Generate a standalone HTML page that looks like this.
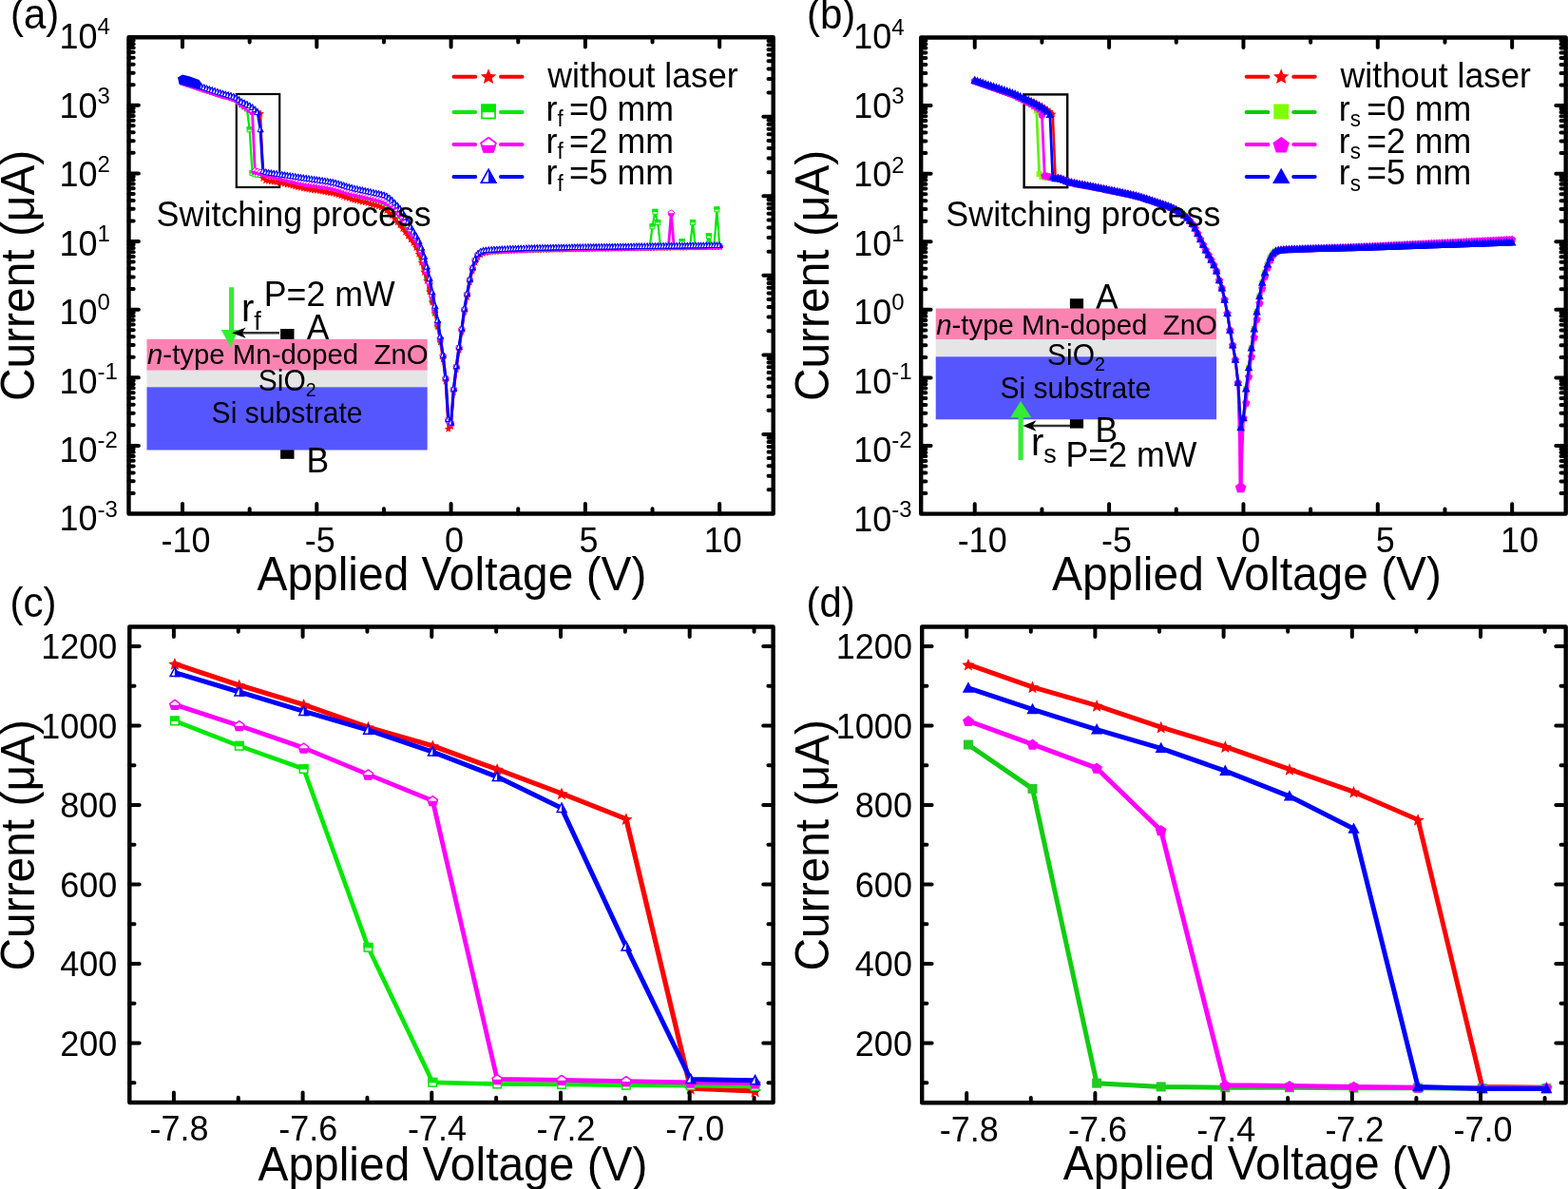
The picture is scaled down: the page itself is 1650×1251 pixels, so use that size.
<!DOCTYPE html>
<html><head><meta charset="utf-8"><title>I-V curves</title>
<style>html,body{margin:0;padding:0;background:#fff;overflow:hidden}svg{display:block}</style>
</head><body>
<svg width="1650" height="1251" viewBox="0 0 1650 1251" font-family="'Liberation Sans', Arial, Helvetica, sans-serif">
<defs><marker id="ast" markerUnits="userSpaceOnUse" markerWidth="20.8" markerHeight="20.8" refX="10.4" refY="10.4" overflow="visible"><polygon points="10.4,6.62 11.51,9.29 14.39,9.52 12.2,11.4 12.87,14.22 10.4,12.71 7.93,14.22 8.6,11.4 6.41,9.52 9.29,9.29" fill="#ff0000"/></marker><marker id="asq" markerUnits="userSpaceOnUse" markerWidth="20.8" markerHeight="20.8" refX="10.4" refY="10.4" overflow="visible"><rect x="7.9" y="7.9" width="5" height="5" fill="#fff" stroke="#00e800" stroke-width="1"/><rect x="7.4" y="7.4" width="6" height="3.3" fill="#00e800"/></marker><marker id="ape" markerUnits="userSpaceOnUse" markerWidth="20.8" markerHeight="20.8" refX="10.4" refY="10.4" overflow="visible"><polygon points="10.4,7.26 13.73,9.68 12.46,13.59 8.34,13.59 7.07,9.68" fill="#fff" stroke="#ff00ff" stroke-width="1" stroke-linejoin="round"/><polygon points="13.85,10.6 12.75,14 8.05,14 6.95,10.6" fill="#ff00ff"/></marker><marker id="atr" markerUnits="userSpaceOnUse" markerWidth="20.8" markerHeight="20.8" refX="10.4" refY="10.4" overflow="visible"><polygon points="10.4,7.22 13.35,12.92 7.45,12.92" fill="#fff" stroke="#0000ff" stroke-width="1" stroke-linejoin="miter"/><polygon points="10.4,6.22 14.2,13.42 10.4,13.42" fill="#0000ff"/></marker><marker id="bst" markerUnits="userSpaceOnUse" markerWidth="21.2" markerHeight="21.2" refX="10.6" refY="10.6" overflow="visible"><polygon points="10.6,7 11.66,9.54 14.4,9.76 12.31,11.56 12.95,14.24 10.6,12.8 8.25,14.24 8.89,11.56 6.8,9.76 9.54,9.54" fill="#ff0000"/></marker><marker id="bsq" markerUnits="userSpaceOnUse" markerWidth="21.2" markerHeight="21.2" refX="10.6" refY="10.6" overflow="visible"><rect x="7.6" y="7.6" width="6" height="6" fill="#80ff00"/></marker><marker id="bpe" markerUnits="userSpaceOnUse" markerWidth="21.2" markerHeight="21.2" refX="10.6" refY="10.6" overflow="visible"><polygon points="10.6,6.6 14.78,9.64 13.19,14.56 8.01,14.56 6.42,9.64" fill="#ff00ff"/></marker><marker id="btr" markerUnits="userSpaceOnUse" markerWidth="21.2" markerHeight="21.2" refX="10.6" refY="10.6" overflow="visible"><polygon points="10.6,5.73 14.9,14.13 6.3,14.13" fill="#0000ff"/></marker><marker id="cst" markerUnits="userSpaceOnUse" markerWidth="32" markerHeight="32" refX="16" refY="16" overflow="visible"><polygon points="16,9.7 17.85,14.15 22.66,14.54 19,17.67 20.11,22.36 16,19.85 11.89,22.36 13,17.67 9.34,14.54 14.15,14.15" fill="#ff0000"/></marker><marker id="csq" markerUnits="userSpaceOnUse" markerWidth="32" markerHeight="32" refX="16" refY="16" overflow="visible"><rect x="11.75" y="11.75" width="8.5" height="8.5" fill="#fff" stroke="#00e800" stroke-width="1.5"/><rect x="11" y="11" width="10" height="5.5" fill="#00e800"/></marker><marker id="cpe" markerUnits="userSpaceOnUse" markerWidth="32" markerHeight="32" refX="16" refY="16" overflow="visible"><polygon points="16,11.11 21.18,14.87 19.2,20.97 12.8,20.97 10.82,14.87" fill="#fff" stroke="#ff00ff" stroke-width="1.5" stroke-linejoin="round"/><polygon points="21.35,16.31 19.64,21.57 12.36,21.57 10.65,16.31" fill="#ff00ff"/></marker><marker id="ctr" markerUnits="userSpaceOnUse" markerWidth="32" markerHeight="32" refX="16" refY="16" overflow="visible"><polygon points="16,10.89 20.83,20.04 11.18,20.04" fill="#fff" stroke="#0000ff" stroke-width="1.5" stroke-linejoin="miter"/><polygon points="16,9.39 22.1,20.79 16,20.79" fill="#0000ff"/></marker><marker id="dst" markerUnits="userSpaceOnUse" markerWidth="32" markerHeight="32" refX="16" refY="16" overflow="visible"><polygon points="16,9.7 17.85,14.15 22.66,14.54 19,17.67 20.11,22.36 16,19.85 11.89,22.36 13,17.67 9.34,14.54 14.15,14.15" fill="#ff0000"/></marker><marker id="dsq" markerUnits="userSpaceOnUse" markerWidth="32" markerHeight="32" refX="16" refY="16" overflow="visible"><rect x="11" y="11" width="10" height="10" fill="#22cc22"/></marker><marker id="dpe" markerUnits="userSpaceOnUse" markerWidth="32" markerHeight="32" refX="16" refY="16" overflow="visible"><polygon points="16,10.36 21.9,14.64 19.64,21.57 12.36,21.57 10.1,14.64" fill="#ff00ff"/></marker><marker id="dtr" markerUnits="userSpaceOnUse" markerWidth="32" markerHeight="32" refX="16" refY="16" overflow="visible"><polygon points="16,9.39 22.1,20.79 9.9,20.79" fill="#0000ff"/></marker></defs>
<rect width="1650" height="1251" fill="#fff"/>
<clipPath id="clipa"><rect x="135.5" y="39.2" width="678.2" height="501.3"/></clipPath>
<clipPath id="clipb"><rect x="969.2" y="39.5" width="678.5" height="501.1"/></clipPath>
<g clip-path="url(#clipa)">
<text transform="translate(322.8 356.6) scale(1 1.035)" font-size="35.5" text-anchor="start">A</text>
<rect x="295.1" y="346" width="14.4" height="14" fill="#000"/>
<rect x="295.1" y="469.5" width="14.4" height="13.3" fill="#000"/>
<rect x="154.5" y="356.8" width="295.2" height="33" fill="#fb83b2"/>
<rect x="154.5" y="389.8" width="295.2" height="17.5" fill="#e5e5e5"/>
<rect x="154.5" y="407.3" width="295.2" height="66.2" fill="#5656ff"/>
<text transform="translate(155.0 382.9) scale(1 1.035)" font-size="29.4"><tspan font-style="italic">n</tspan>-type Mn-doped&#160; ZnO</text>
<text transform="translate(271.8 411.3) scale(1 1.035)" font-size="30">SiO<tspan font-size="19.6" dy="5.6">2</tspan></text>
<text transform="translate(222.6 445.3) scale(1 1.035)" font-size="30.1" text-anchor="start">Si substrate</text>
<text transform="translate(322.4 497) scale(1 1.035)" font-size="35.5" text-anchor="start">B</text>
<line x1="243.6" y1="302.3" x2="243.6" y2="350" stroke="#33ee33" stroke-width="5.2"/>
<polygon points="232.7,346.9 250.5,346.9 242.8,365.5" fill="#33ee33"/>
<line x1="294" y1="350.2" x2="252" y2="350.2" stroke="#333" stroke-width="2.4"/>
<polygon points="244.2,350.2 258.6,344.6 254.8,350.2 258.6,355.8" fill="#000"/>
<text transform="translate(254 338.4) scale(1 1.035)" font-size="40">r<tspan font-size="27" dy="8.5">f</tspan></text>
<text transform="translate(277.8 321.7) scale(1 1.035)" font-size="35.7" text-anchor="start">P=2 mW</text>
<rect x="248.8" y="99" width="45.4" height="98" fill="none" stroke="#000" stroke-width="2.2"/>
<polyline points="192.02,86.47 194.84,87.42 197.67,88.38 200.49,89.34 203.32,90.29 206.15,91.24 208.97,92.19 211.8,93.15 214.62,94.11 217.45,95.06 220.28,95.99 223.1,96.9 225.93,97.79 228.75,98.67 231.58,99.55 234.4,100.43 237.23,101.23 240.06,101.93 242.88,102.69 245.71,103.62 248.53,104.87 251.36,107.45 254.19,110.44 257.01,112.44 259.84,114.4 262.66,136.28 265.49,182.12 268.31,183.38 271.14,183.7 273.97,184.02 276.79,184.69 279.62,185.36 282.44,186.23 285.27,186.94 288.1,187.58 290.92,188.25 293.75,188.97 296.57,189.68 299.4,190.29 302.22,190.9 305.05,191.51 307.88,192.11 310.7,192.72 313.53,193.32 316.35,193.93 319.18,194.53 322,195.06 324.83,195.57 327.66,196.06 330.48,196.54 333.31,197.02 336.13,197.5 338.96,198 341.79,198.52 344.61,199.07 347.44,199.67 350.26,200.31 353.09,201.06 355.92,201.93 358.74,202.89 361.57,203.89 364.39,204.82 367.22,205.7 370.04,206.5 372.87,207.21 375.7,207.88 378.52,208.53 381.35,209.15 384.17,209.77 387,210.4 389.83,211.04 392.65,211.84 395.48,212.59 398.3,213.33 401.13,214.26 403.95,215.22 406.78,216.71 409.61,218.62 412.43,220.92 415.26,223.51 418.08,226.56 420.91,230.27 423.74,234.55 426.56,238.8 429.39,243.15 432.21,247.35 435.04,251.33 437.86,255.92 440.69,262.07 443.52,271.17 446.34,281.91 449.17,292.13 451.99,304.39 454.82,316.59 457.65,329.03 460.47,342.62 463.3,357.94 466.12,374.9 468.95,398.67 471.77,442.42 474.6,445.93 477.43,410.05 480.25,386.34 483.08,366.14 485.9,346.8 488.73,325.96 491.56,310.06 494.38,294.8 497.21,282.62 500.03,274.03 502.86,268.3 505.68,265.99 508.51,264.85 511.34,264.46 514.16,264.19 516.99,264 519.81,263.84 522.64,263.67 525.47,263.5 528.29,263.35 531.12,263.2 533.94,263.07 536.77,262.94 539.59,262.82 542.42,262.7 545.25,262.59 548.07,262.49 550.9,262.39 553.72,262.31 556.55,262.22 559.38,262.14 562.2,262.07 565.03,262 567.85,261.93 570.68,261.87 573.5,261.8 576.33,261.74 579.16,261.68 581.98,261.63 584.81,261.57 587.63,261.52 590.46,261.46 593.29,261.41 596.11,261.37 598.94,261.32 601.76,261.27 604.59,261.22 607.41,261.18 610.24,261.14 613.07,261.09 615.89,261.05 618.72,261.01 621.54,260.96 624.37,260.92 627.2,260.88 630.02,260.84 632.85,260.79 635.67,260.75 638.5,260.71 641.32,260.66 644.15,260.62 646.98,260.57 649.8,260.53 652.63,260.48 655.45,260.44 658.28,260.39 661.11,260.35 663.93,260.3 666.76,260.26 669.58,260.21 672.41,260.17 675.23,260.13 678.06,260.08 680.89,260.04 683.71,260 686.54,238.29 689.36,222.82 692.19,233.99 695.02,259.83 697.84,259.79 700.67,259.75 703.49,259.71 706.32,259.67 709.14,259.63 711.97,259.59 714.8,259.55 717.62,254.04 720.45,259.47 723.27,259.43 726.1,259.39 728.93,233.99 731.75,259.31 734.58,259.27 737.4,259.24 740.23,259.2 743.05,259.16 745.88,248.31 748.71,259.09 751.53,259.05 754.36,220.38 757.18,258.98" fill="none" stroke="#00e800" stroke-width="2.2" stroke-linejoin="round" stroke-linecap="round" marker-start="url(#asq)" marker-mid="url(#asq)" marker-end="url(#asq)"/>
<polyline points="192.02,84.75 194.84,85.7 197.67,86.66 200.49,87.62 203.32,88.57 206.15,89.52 208.97,90.48 211.8,91.43 214.62,92.39 217.45,93.34 220.28,94.27 223.1,95.18 225.93,96.07 228.75,96.95 231.58,97.83 234.4,98.71 237.23,99.53 240.06,100.29 242.88,101.07 245.71,102 248.53,103.15 251.36,105.1 254.19,107.19 257.01,108.56 259.84,110 262.66,111.44 265.49,113.22 268.31,115.4 271.14,117.75 273.97,119.15 276.79,187.12 279.62,189.37 282.44,189.99 285.27,190.45 288.1,190.84 290.92,191.26 293.75,191.72 296.57,192.18 299.4,192.89 302.22,193.58 305.05,194.28 307.88,194.98 310.7,195.67 313.53,196.36 316.35,197.06 319.18,197.76 322,198.23 324.83,198.7 327.66,199.15 330.48,199.58 333.31,200.01 336.13,200.45 338.96,200.9 341.79,201.37 344.61,201.88 347.44,202.43 350.26,203.02 353.09,203.73 355.92,204.55 358.74,205.47 361.57,206.42 364.39,207.37 367.22,208.28 370.04,209.1 372.87,209.84 375.7,210.53 378.52,211.2 381.35,211.85 384.17,212.49 387,213.29 389.83,214.11 392.65,214.95 395.48,215.71 398.3,216.57 401.13,217.7 403.95,219.19 406.78,221.24 409.61,223.74 412.43,226.55 415.26,229.7 418.08,233.41 420.91,236.54 423.74,240.14 426.56,243.99 429.39,247.86 432.21,251.45 435.04,255.21 437.86,260.11 440.69,266.94 443.52,275.81 446.34,286.06 449.17,295.25 451.99,306.61 454.82,317.7 457.65,329.1 460.47,343.47 463.3,359.62 466.12,377.72 468.95,400.93 471.77,451.05 474.6,448.12 477.43,412.24 480.25,388.51 483.08,368.28 485.9,348.9 488.73,328.02 491.56,312.08 494.38,296.78 497.21,284.56 500.03,275.93 502.86,270.16 505.68,267.57 508.51,266.15 511.34,265.47 514.16,264.92 516.99,264.45 519.81,264.28 522.64,264.11 525.47,263.95 528.29,263.79 531.12,263.64 533.94,263.51 536.77,263.37 539.59,263.25 542.42,263.14 545.25,263.03 548.07,262.92 550.9,262.83 553.72,262.74 556.55,262.65 559.38,262.57 562.2,262.5 565.03,262.43 567.85,262.36 570.68,262.29 573.5,262.23 576.33,262.16 579.16,262.1 581.98,262.05 584.81,261.99 587.63,261.94 590.46,261.88 593.29,261.83 596.11,261.78 598.94,261.73 601.76,261.68 604.59,261.64 607.41,261.59 610.24,261.55 613.07,261.5 615.89,261.46 618.72,261.41 621.54,261.37 624.37,261.33 627.2,261.28 630.02,261.24 632.85,261.2 635.67,261.15 638.5,261.11 641.32,261.06 644.15,261.01 646.98,260.97 649.8,260.92 652.63,260.88 655.45,260.83 658.28,260.78 661.11,260.74 663.93,260.69 666.76,260.65 669.58,260.6 672.41,260.56 675.23,260.51 678.06,260.47 680.89,260.43 683.71,260.38 686.54,260.34 689.36,260.3 692.19,260.25 695.02,260.21 697.84,260.17 700.67,260.13 703.49,260.08 706.32,260.04 709.14,260 711.97,259.96 714.8,259.92 717.62,259.88 720.45,259.84 723.27,259.8 726.1,259.76 728.93,259.72 731.75,259.68 734.58,259.64 737.4,259.6 740.23,259.56 743.05,259.53 745.88,259.49 748.71,259.45 751.53,259.42 754.36,259.38 757.18,259.34" fill="none" stroke="#ff0000" stroke-width="2.6" stroke-linejoin="round" stroke-linecap="round" marker-start="url(#ast)" marker-mid="url(#ast)" marker-end="url(#ast)"/>
<polyline points="192.02,85.89 194.84,86.85 197.67,87.81 200.49,88.76 203.32,89.72 206.15,90.67 208.97,91.62 211.8,92.58 214.62,93.54 217.45,94.49 220.28,95.42 223.1,96.32 225.93,97.22 228.75,98.1 231.58,98.97 234.4,99.86 237.23,100.66 240.06,101.39 242.88,102.15 245.71,103.08 248.53,104.3 251.36,106.63 254.19,109.21 257.01,110.81 259.84,112.61 262.66,114.9 265.49,117.33 268.31,179.75 271.14,180.32 273.97,181.21 276.79,182.12 279.62,182.74 282.44,183.55 285.27,184.24 288.1,184.86 290.92,185.51 293.75,186.2 296.57,186.88 299.4,187.58 302.22,188.27 305.05,188.95 307.88,189.64 310.7,190.33 313.53,191.01 316.35,191.7 319.18,192.38 322,192.81 324.83,193.23 327.66,193.63 330.48,194.01 333.31,194.39 336.13,194.78 338.96,195.18 341.79,195.61 344.61,196.07 347.44,196.56 350.26,197.11 353.09,197.76 355.92,198.54 358.74,199.4 361.57,200.31 364.39,201.21 367.22,202.07 370.04,202.84 372.87,203.53 375.7,204.17 378.52,204.79 381.35,205.39 384.17,205.99 387,206.59 389.83,207.21 392.65,207.92 395.48,208.58 398.3,209.23 401.13,209.99 403.95,210.78 406.78,212.13 409.61,214 412.43,216.31 415.26,218.92 418.08,221.9 420.91,225.44 423.74,229.65 426.56,233.93 429.39,238.44 432.21,242.94 435.04,247.14 437.86,251.5 440.69,256.91 443.52,264.99 446.34,275.05 449.17,285.54 451.99,298 454.82,311.49 457.65,324.97 460.47,339.36 463.3,355.72 466.12,373.96 468.95,397.78 471.77,441.59 474.6,445.15 477.43,409.32 480.25,385.67 483.08,365.47 485.9,346.14 488.73,325.3 491.56,309.4 494.38,294.15 497.21,281.97 500.03,273.38 502.86,267.65 505.68,265.35 508.51,264.21 511.34,263.82 514.16,263.56 516.99,263.37 519.81,263.21 522.64,263.04 525.47,262.88 528.29,262.73 531.12,262.59 533.94,262.46 536.77,262.33 539.59,262.21 542.42,262.1 545.25,261.99 548.07,261.89 550.9,261.8 553.72,261.72 556.55,261.64 559.38,261.56 562.2,261.49 565.03,261.42 567.85,261.36 570.68,261.3 573.5,261.24 576.33,261.18 579.16,261.12 581.98,261.07 584.81,261.02 587.63,260.97 590.46,260.92 593.29,260.87 596.11,260.82 598.94,260.78 601.76,260.74 604.59,260.69 607.41,260.65 610.24,260.61 613.07,260.57 615.89,260.53 618.72,260.49 621.54,260.45 624.37,260.41 627.2,260.37 630.02,260.33 632.85,260.29 635.67,260.25 638.5,260.21 641.32,260.17 644.15,260.13 646.98,260.09 649.8,260.05 652.63,260 655.45,259.96 658.28,259.92 661.11,259.88 663.93,259.84 666.76,259.8 669.58,259.76 672.41,259.72 675.23,259.68 678.06,259.64 680.89,259.6 683.71,259.56 686.54,259.52 689.36,259.48 692.19,259.44 695.02,259.4 697.84,259.36 700.67,259.33 703.49,259.29 706.32,223.96 709.14,259.21 711.97,259.18 714.8,259.14 717.62,259.1 720.45,259.07 723.27,259.03 726.1,259 728.93,258.96 731.75,258.93 734.58,258.89 737.4,258.86 740.23,258.82 743.05,258.79 745.88,258.76 748.71,258.72 751.53,258.69 754.36,258.66 757.18,258.63" fill="none" stroke="#ff00ff" stroke-width="2.8" stroke-linejoin="round" stroke-linecap="round" marker-start="url(#ape)" marker-mid="url(#ape)" marker-end="url(#ape)"/>
<polyline points="192.02,84.32 194.84,85.27 197.67,86.23 200.49,87.19 203.32,88.14 206.15,89.09 208.97,90.05 211.8,91 214.62,91.96 217.45,92.91 220.28,93.84 223.1,94.75 225.93,95.64 228.75,96.52 231.58,97.4 234.4,98.28 237.23,99.1 240.06,99.85 242.88,100.63 245.71,101.56 248.53,102.72 251.36,104.74 254.19,106.9 257.01,108.28 259.84,109.71 262.66,111.16 265.49,112.94 268.31,115.11 271.14,118.07 273.97,136.14 276.79,179.75 279.62,180.91 282.44,181.51 285.27,181.95 288.1,182.32 290.92,182.72 293.75,183.15 296.57,183.59 299.4,184.02 302.22,184.45 305.05,184.88 307.88,185.31 310.7,185.73 313.53,186.16 316.35,186.59 319.18,187.01 322,187.44 324.83,187.86 327.66,188.25 330.48,188.64 333.31,189.02 336.13,189.41 338.96,189.81 341.79,190.24 344.61,190.69 347.44,191.19 350.26,191.74 353.09,192.39 355.92,193.17 358.74,194.03 361.57,194.94 364.39,195.84 367.22,196.7 370.04,197.47 372.87,198.16 375.7,198.8 378.52,199.42 381.35,200.02 384.17,200.62 387,201.22 389.83,201.83 392.65,202.48 395.48,203.1 398.3,203.68 401.13,204.32 403.95,205.13 406.78,206.31 409.61,208.21 412.43,210.52 415.26,213.22 418.08,216.21 420.91,219.67 423.74,223.78 426.56,228.47 429.39,233.49 432.21,238.62 435.04,243.59 437.86,248.35 440.69,253.72 443.52,260.64 446.34,269.74 449.17,280.48 451.99,292.76 454.82,307.32 457.65,321.72 460.47,336.83 463.3,354.09 466.12,373.5 468.95,397.27 471.77,441.03 474.6,444.54 477.43,408.66 480.25,384.95 483.08,364.76 485.9,345.42 488.73,324.58 491.56,308.68 494.38,293.43 497.21,281.26 500.03,272.66 502.86,266.93 505.68,264.63 508.51,263.5 511.34,263.1 514.16,262.84 516.99,262.66 519.81,262.49 522.64,262.33 525.47,262.17 528.29,262.02 531.12,261.88 533.94,261.74 536.77,261.61 539.59,261.49 542.42,261.38 545.25,261.28 548.07,261.18 550.9,261.09 553.72,261 556.55,260.92 559.38,260.85 562.2,260.78 565.03,260.71 567.85,260.64 570.68,260.58 573.5,260.52 576.33,260.46 579.16,260.41 581.98,260.35 584.81,260.3 587.63,260.25 590.46,260.2 593.29,260.15 596.11,260.11 598.94,260.06 601.76,260.02 604.59,259.98 607.41,259.94 610.24,259.89 613.07,259.85 615.89,259.81 618.72,259.77 621.54,259.74 624.37,259.7 627.2,259.66 630.02,259.62 632.85,259.58 635.67,259.54 638.5,259.5 641.32,259.46 644.15,259.41 646.98,259.37 649.8,259.33 652.63,259.29 655.45,259.25 658.28,259.2 661.11,259.16 663.93,259.12 666.76,259.08 669.58,259.04 672.41,259 675.23,258.96 678.06,258.92 680.89,258.88 683.71,258.84 686.54,258.8 689.36,258.76 692.19,258.72 695.02,258.69 697.84,258.65 700.67,258.61 703.49,258.57 706.32,258.53 709.14,258.5 711.97,258.46 714.8,258.42 717.62,258.39 720.45,258.35 723.27,258.32 726.1,258.28 728.93,258.24 731.75,258.21 734.58,258.18 737.4,258.14 740.23,258.11 743.05,258.07 745.88,258.04 748.71,258.01 751.53,257.97 754.36,257.94 757.18,257.91" fill="none" stroke="#0000ff" stroke-width="3" stroke-linejoin="round" stroke-linecap="round" marker-start="url(#atr)" marker-mid="url(#atr)" marker-end="url(#atr)"/>
<text transform="translate(164.6 238) scale(1 1.035)" font-size="35.9" text-anchor="start">Switching process</text>
<polygon points="187,81.5 192,78.4 200,80.5 209.5,84 212,87.5 210.5,94.5 196,90.5 188.5,88.5" fill="#0000ff"/>
</g>
<rect x="135.5" y="39.2" width="678.2" height="501.3" fill="none" stroke="#000" stroke-width="4.4" stroke-linejoin="round"/>
<path d="M192.02 540.5L192.02 530.1M192.02 39.2L192.02 49.6M333.31 540.5L333.31 530.1M333.31 39.2L333.31 49.6M474.6 540.5L474.6 530.1M474.6 39.2L474.6 49.6M615.89 540.5L615.89 530.1M615.89 39.2L615.89 49.6M757.18 540.5L757.18 530.1M757.18 39.2L757.18 49.6M262.66 540.5L262.66 535.3M262.66 39.2L262.66 44.4M403.95 540.5L403.95 535.3M403.95 39.2L403.95 44.4M545.25 540.5L545.25 535.3M545.25 39.2L545.25 44.4M686.54 540.5L686.54 535.3M686.54 39.2L686.54 44.4M135.5 518.94L140.7 518.94M135.5 506.33L140.7 506.33M135.5 497.38L140.7 497.38M135.5 490.44L140.7 490.44M135.5 484.77L140.7 484.77M135.5 479.98L140.7 479.98M135.5 475.83L140.7 475.83M135.5 472.16L140.7 472.16M135.5 468.89L145.9 468.89M135.5 447.33L140.7 447.33M135.5 434.72L140.7 434.72M135.5 425.77L140.7 425.77M135.5 418.83L140.7 418.83M135.5 413.16L140.7 413.16M135.5 408.36L140.7 408.36M135.5 404.21L140.7 404.21M135.5 400.55L140.7 400.55M135.5 397.27L145.9 397.27M135.5 375.71L140.7 375.71M135.5 363.1L140.7 363.1M135.5 354.16L140.7 354.16M135.5 347.22L140.7 347.22M135.5 341.54L140.7 341.54M135.5 336.75L140.7 336.75M135.5 332.6L140.7 332.6M135.5 328.93L140.7 328.93M135.5 325.66L145.9 325.66M135.5 304.1L140.7 304.1M135.5 291.49L140.7 291.49M135.5 282.54L140.7 282.54M135.5 275.6L140.7 275.6M135.5 269.93L140.7 269.93M135.5 265.14L140.7 265.14M135.5 260.98L140.7 260.98M135.5 257.32L140.7 257.32M135.5 254.04L145.9 254.04M135.5 232.48L140.7 232.48M135.5 219.87L140.7 219.87M135.5 210.93L140.7 210.93M135.5 203.99L140.7 203.99M135.5 198.32L140.7 198.32M135.5 193.52L140.7 193.52M135.5 189.37L140.7 189.37M135.5 185.71L140.7 185.71M135.5 182.43L145.9 182.43M135.5 160.87L140.7 160.87M135.5 148.26L140.7 148.26M135.5 139.31L140.7 139.31M135.5 132.37L140.7 132.37M135.5 126.7L140.7 126.7M135.5 121.91L140.7 121.91M135.5 117.75L140.7 117.75M135.5 114.09L140.7 114.09M135.5 110.81L145.9 110.81M135.5 89.26L140.7 89.26M135.5 76.65L140.7 76.65M135.5 67.7L140.7 67.7M135.5 60.76L140.7 60.76M135.5 55.09L140.7 55.09M135.5 50.29L140.7 50.29M135.5 46.14L140.7 46.14M135.5 42.48L140.7 42.48M813.7 515.35L808.5 515.35M813.7 500.64L808.5 500.64M813.7 490.2L808.5 490.2M813.7 482.1L808.5 482.1M813.7 475.49L808.5 475.49M813.7 469.89L808.5 469.89M813.7 465.05L808.5 465.05M813.7 460.77L808.5 460.77M813.7 456.95L803.3 456.95M813.7 431.8L808.5 431.8M813.7 417.09L808.5 417.09M813.7 406.65L808.5 406.65M813.7 398.55L808.5 398.55M813.7 391.94L808.5 391.94M813.7 386.34L808.5 386.34M813.7 381.5L808.5 381.5M813.7 377.22L808.5 377.22M813.7 373.4L803.3 373.4M813.7 348.25L808.5 348.25M813.7 333.54L808.5 333.54M813.7 323.1L808.5 323.1M813.7 315L808.5 315M813.7 308.39L808.5 308.39M813.7 302.79L808.5 302.79M813.7 297.95L808.5 297.95M813.7 293.67L808.5 293.67M813.7 289.85L803.3 289.85M813.7 264.7L808.5 264.7M813.7 249.99L808.5 249.99M813.7 239.55L808.5 239.55M813.7 231.45L808.5 231.45M813.7 224.84L808.5 224.84M813.7 219.24L808.5 219.24M813.7 214.4L808.5 214.4M813.7 210.12L808.5 210.12M813.7 206.3L803.3 206.3M813.7 181.15L808.5 181.15M813.7 166.44L808.5 166.44M813.7 156L808.5 156M813.7 147.9L808.5 147.9M813.7 141.29L808.5 141.29M813.7 135.69L808.5 135.69M813.7 130.85L808.5 130.85M813.7 126.57L808.5 126.57M813.7 122.75L803.3 122.75M813.7 97.6L808.5 97.6M813.7 82.89L808.5 82.89M813.7 72.45L808.5 72.45M813.7 64.35L808.5 64.35M813.7 57.74L808.5 57.74M813.7 52.14L808.5 52.14M813.7 47.3L808.5 47.3M813.7 43.02L808.5 43.02" stroke="#000" stroke-width="4.0" stroke-linecap="round" fill="none"/>
<text transform="translate(62.5 558.49) scale(1 1.035)" font-size="36">10<tspan font-size="24" dy="-14.3">-3</tspan></text>
<text transform="translate(62.5 486.01) scale(1 1.035)" font-size="36">10<tspan font-size="24" dy="-14.3">-2</tspan></text>
<text transform="translate(62.5 413.52) scale(1 1.035)" font-size="36">10<tspan font-size="24" dy="-14.3">-1</tspan></text>
<text transform="translate(62.5 341.04) scale(1 1.035)" font-size="36">10<tspan font-size="24" dy="-14.3">0</tspan></text>
<text transform="translate(62.5 268.55) scale(1 1.035)" font-size="36">10<tspan font-size="24" dy="-14.3">1</tspan></text>
<text transform="translate(62.5 196.07) scale(1 1.035)" font-size="36">10<tspan font-size="24" dy="-14.3">2</tspan></text>
<text transform="translate(62.5 123.58) scale(1 1.035)" font-size="36">10<tspan font-size="24" dy="-14.3">3</tspan></text>
<text transform="translate(62.5 51.1) scale(1 1.035)" font-size="36">10<tspan font-size="24" dy="-14.3">4</tspan></text>
<text transform="translate(195.52 580.5) scale(1 1.035)" font-size="36" text-anchor="middle">-10</text>
<text transform="translate(336.81 580.5) scale(1 1.035)" font-size="36" text-anchor="middle">-5</text>
<text transform="translate(478.1 580.5) scale(1 1.035)" font-size="36" text-anchor="middle">0</text>
<text transform="translate(619.39 580.5) scale(1 1.035)" font-size="36" text-anchor="middle">5</text>
<text transform="translate(760.68 580.5) scale(1 1.035)" font-size="36" text-anchor="middle">10</text>
<line x1="477.5" y1="80.8" x2="500.2" y2="80.8" stroke="#ff0000" stroke-width="4" stroke-linecap="round"/>
<line x1="527" y1="80.8" x2="549.5" y2="80.8" stroke="#ff0000" stroke-width="4" stroke-linecap="round"/>
<polygon points="514,72.37 516.3,77.9 522.27,78.38 517.72,82.28 519.11,88.11 514,84.99 508.89,88.11 510.28,82.28 505.73,78.38 511.7,77.9" fill="#ff0000"/>
<line x1="477.5" y1="118" x2="500.2" y2="118" stroke="#00e800" stroke-width="4" stroke-linecap="round"/>
<line x1="527" y1="118" x2="549.5" y2="118" stroke="#00e800" stroke-width="4" stroke-linecap="round"/>
<rect x="506.95" y="110.35" width="14.1" height="14.1" fill="#fff" stroke="#00e800" stroke-width="1.7"/><rect x="506.1" y="109.5" width="15.8" height="8.69" fill="#00e800"/>
<line x1="477.5" y1="152" x2="500.2" y2="152" stroke="#ff00ff" stroke-width="4" stroke-linecap="round"/>
<line x1="527" y1="152" x2="549.5" y2="152" stroke="#ff00ff" stroke-width="4" stroke-linecap="round"/>
<polygon points="514,144.78 521.94,150.55 518.91,159.88 509.09,159.88 506.06,150.55" fill="#fff" stroke="#ff00ff" stroke-width="1.7" stroke-linejoin="round"/><polygon points="521.95,152.76 519.41,160.57 508.59,160.57 506.05,152.76" fill="#ff00ff"/>
<line x1="477.5" y1="185.9" x2="500.2" y2="185.9" stroke="#0000ff" stroke-width="4" stroke-linecap="round"/>
<line x1="527" y1="185.9" x2="549.5" y2="185.9" stroke="#0000ff" stroke-width="4" stroke-linecap="round"/>
<polygon points="514,178.39 521.65,192.24 506.34,192.24" fill="#fff" stroke="#0000ff" stroke-width="1.7" stroke-linejoin="miter"/><polygon points="514,176.69 523.1,193.09 514,193.09" fill="#0000ff"/>
<text transform="translate(576.3 92.3) scale(1 1.035)" font-size="35.7">without laser</text>
<text transform="translate(574.6 126.8) scale(1 1.035)" font-size="35.7">r<tspan font-size="22.4" dy="6.4">f </tspan><tspan dy="-6.4">=0 mm</tspan></text>
<text transform="translate(574.6 160.5) scale(1 1.035)" font-size="35.7">r<tspan font-size="22.4" dy="6.4">f </tspan><tspan dy="-6.4">=2 mm</tspan></text>
<text transform="translate(574.6 194.1) scale(1 1.035)" font-size="35.7">r<tspan font-size="22.4" dy="6.4">f </tspan><tspan dy="-6.4">=5 mm</tspan></text>
<text transform="translate(11 30) scale(1 1.035)" font-size="42" text-anchor="start">(a)</text>
<text transform="translate(36.2 289.9) rotate(-90) scale(1 1.035)" font-size="47.9" text-anchor="middle">Current (μA)</text>
<text transform="translate(475.5 620.9) scale(1 1.035)" font-size="47.9" text-anchor="middle">Applied Voltage (V)</text>
<g clip-path="url(#clipb)">
<text transform="translate(1153 324.8) scale(1 1.035)" font-size="35.5" text-anchor="start">A</text>
<rect x="1125.9" y="314.2" width="14.2" height="14" fill="#000"/>
<rect x="1125.9" y="437.3" width="14.2" height="13.3" fill="#000"/>
<rect x="984.7" y="324.5" width="295.4" height="32.8" fill="#fb83b2"/>
<rect x="984.7" y="357.3" width="295.4" height="18" fill="#e5e5e5"/>
<rect x="984.7" y="375.3" width="295.4" height="66" fill="#5656ff"/>
<text transform="translate(985.2 351.8) scale(1 1.035)" font-size="29.4"><tspan font-style="italic">n</tspan>-type Mn-doped&#160; ZnO</text>
<text transform="translate(1102.0 384.3) scale(1 1.035)" font-size="30">SiO<tspan font-size="19.6" dy="5.6">2</tspan></text>
<text transform="translate(1052.4 419.2) scale(1 1.035)" font-size="30.1" text-anchor="start">Si substrate</text>
<text transform="translate(1152.6 464.7) scale(1 1.035)" font-size="35.5" text-anchor="start">B</text>
<line x1="1074.1" y1="484" x2="1074.1" y2="436" stroke="#33ee33" stroke-width="5.2"/>
<polygon points="1063.2,439.3 1085.2,439.3 1074.1,421.9" fill="#33ee33"/>
<line x1="1126" y1="448" x2="1083" y2="448" stroke="#333" stroke-width="2.6"/>
<polygon points="1076.4,448 1090.5,442.2 1086.5,448 1090.5,453.8" fill="#000"/>
<text transform="translate(1085 478.6) scale(1 1.035)" font-size="40">r<tspan font-size="27" dy="8">s</tspan></text>
<text transform="translate(1121.5 490.7) scale(1 1.035)" font-size="35.7" text-anchor="start">P=2 mW</text>
<rect x="1077.6" y="99.4" width="45.6" height="97.8" fill="none" stroke="#000" stroke-width="2.4"/>
<polyline points="1025.74,84.46 1028.57,85.43 1031.4,86.39 1034.22,87.35 1037.05,88.3 1039.88,89.25 1042.7,90.19 1045.53,91.11 1048.36,92.03 1051.19,92.95 1054.01,93.91 1056.84,94.86 1059.67,95.81 1062.49,96.79 1065.32,97.81 1068.15,98.92 1070.98,100.2 1073.8,101.6 1076.63,102.85 1079.46,103.83 1082.28,104.68 1085.11,105.55 1087.94,106.63 1090.76,108.21 1093.59,109.57 1096.42,111.21 1099.25,112.78 1102.07,114.71 1104.9,116.77 1107.73,119.5 1110.55,185.95 1113.38,186.65 1116.21,187.69 1119.04,188.97 1121.86,190.25 1124.69,191.26 1127.52,192 1130.34,192.65 1133.17,193.23 1136,193.75 1138.83,194.25 1141.65,194.74 1144.48,195.24 1147.31,195.76 1150.13,196.33 1152.96,196.89 1155.79,197.46 1158.61,198.03 1161.44,198.59 1164.27,199.17 1167.1,199.75 1169.92,200.33 1172.75,200.93 1175.58,201.52 1178.4,202.1 1181.23,202.69 1184.06,203.28 1186.89,203.88 1189.71,204.51 1192.54,205.16 1195.37,205.86 1198.19,206.6 1201.02,207.4 1203.85,208.27 1206.67,209.18 1209.5,210.12 1212.33,211.07 1215.16,212.02 1217.98,212.95 1220.81,213.87 1223.64,214.8 1226.46,215.78 1229.29,216.82 1232.12,217.97 1234.95,219.25 1237.77,220.69 1240.6,222.33 1243.43,224.19 1246.25,226.38 1249.08,228.96 1251.91,231.96 1254.74,235.58 1257.56,239.94 1260.39,245.45 1263.22,251.53 1266.04,257.27 1268.87,262.85 1271.7,268.01 1274.53,273.12 1277.35,278.64 1280.18,285.04 1283.01,294.63 1285.83,302.94 1288.66,315.11 1291.49,329.42 1294.31,347.32 1297.14,363.07 1299.97,378.1 1302.8,402.44 1305.62,449.69 1308.45,439.66 1311.28,408.88 1314.1,386.69 1316.93,365.93 1319.76,345.89 1322.59,327.99 1325.41,311.53 1328.24,297.21 1331.07,286.47 1333.89,277.88 1336.72,270.72 1339.55,266.43 1342.38,264.13 1345.2,263.3 1348.03,262.91 1350.86,262.66 1353.68,262.49 1356.51,262.34 1359.34,262.22 1362.16,262.11 1364.99,262.01 1367.82,261.93 1370.65,261.85 1373.47,261.78 1376.3,261.7 1379.13,261.63 1381.95,261.56 1384.78,261.49 1387.61,261.42 1390.44,261.36 1393.26,261.3 1396.09,261.24 1398.92,261.19 1401.74,261.13 1404.57,261.08 1407.4,261.02 1410.23,260.96 1413.05,260.9 1415.88,260.84 1418.71,260.77 1421.53,260.7 1424.36,260.62 1427.19,260.55 1430.01,260.47 1432.84,260.38 1435.67,260.3 1438.5,260.21 1441.32,260.12 1444.15,260.03 1446.98,259.94 1449.8,259.84 1452.63,259.75 1455.46,259.65 1458.29,259.55 1461.11,259.45 1463.94,259.35 1466.77,259.25 1469.59,259.15 1472.42,259.05 1475.25,258.94 1478.08,258.84 1480.9,258.74 1483.73,258.63 1486.56,258.53 1489.38,258.43 1492.21,258.33 1495.04,258.23 1497.86,258.13 1500.69,258.03 1503.52,257.93 1506.35,257.84 1509.17,257.74 1512,257.65 1514.83,257.55 1517.65,257.45 1520.48,257.36 1523.31,257.26 1526.14,257.17 1528.96,257.07 1531.79,256.98 1534.62,256.88 1537.44,256.79 1540.27,256.69 1543.1,256.6 1545.92,256.5 1548.75,256.4 1551.58,256.31 1554.41,256.21 1557.23,256.12 1560.06,256.02 1562.89,255.93 1565.71,255.83 1568.54,255.74 1571.37,255.64 1574.2,255.55 1577.02,255.45 1579.85,255.35 1582.68,255.26 1585.5,255.16 1588.33,255.07 1591.16,254.97" fill="none" stroke="#ff0000" stroke-width="2.6" stroke-linejoin="round" stroke-linecap="round" marker-start="url(#bst)" marker-mid="url(#bst)" marker-end="url(#bst)"/>
<polyline points="1025.74,85.31 1028.57,86.29 1031.4,87.28 1034.22,88.28 1037.05,89.3 1039.88,90.33 1042.7,91.38 1045.53,92.45 1048.36,93.53 1051.19,94.62 1054.01,95.69 1056.84,96.74 1059.67,97.76 1062.49,98.8 1065.32,99.88 1068.15,101.06 1070.98,102.38 1073.8,103.81 1076.63,105.36 1079.46,106.89 1082.28,108.45 1085.11,110.28 1087.94,112.62 1090.76,116.47 1093.59,182.98 1096.42,185.95 1099.25,186.65 1102.07,186.65 1104.9,186.65 1107.73,186.65 1110.55,186.65 1113.38,187 1116.21,187.8 1119.04,188.99 1121.86,190.26 1124.69,191.26 1127.52,191.98 1130.34,192.62 1133.17,193.2 1136,193.73 1138.83,194.23 1141.65,194.73 1144.48,195.23 1147.31,195.76 1150.13,196.33 1152.96,196.89 1155.79,197.46 1158.61,198.03 1161.44,198.59 1164.27,199.17 1167.1,199.75 1169.92,200.33 1172.75,200.93 1175.58,201.52 1178.4,202.1 1181.23,202.69 1184.06,203.28 1186.89,203.88 1189.71,204.51 1192.54,205.16 1195.37,205.86 1198.19,206.6 1201.02,207.4 1203.85,208.27 1206.67,209.18 1209.5,210.12 1212.33,211.07 1215.16,212.02 1217.98,212.95 1220.81,213.87 1223.64,214.8 1226.46,215.78 1229.29,216.82 1232.12,217.97 1234.95,219.25 1237.77,220.69 1240.6,222.33 1243.43,224.19 1246.25,226.38 1249.08,228.96 1251.91,231.96 1254.74,235.58 1257.56,239.94 1260.39,245.45 1263.22,251.53 1266.04,257.27 1268.87,262.85 1271.7,268.01 1274.53,273.12 1277.35,278.64 1280.18,285.04 1283.01,294.63 1285.83,302.94 1288.66,315.11 1291.49,329.42 1294.31,347.32 1297.14,363.07 1299.97,378.1 1302.8,402.44 1305.62,449.69 1308.45,439.66 1311.28,408.88 1314.1,386.69 1316.93,365.93 1319.76,345.89 1322.59,327.99 1325.41,311.53 1328.24,297.21 1331.07,286.47 1333.89,277.88 1336.72,270.72 1339.55,266.43 1342.38,264.13 1345.2,263.3 1348.03,262.91 1350.86,262.66 1353.68,262.49 1356.51,262.34 1359.34,262.22 1362.16,262.11 1364.99,262.01 1367.82,261.93 1370.65,261.85 1373.47,261.78 1376.3,261.7 1379.13,261.63 1381.95,261.56 1384.78,261.49 1387.61,261.42 1390.44,261.36 1393.26,261.3 1396.09,261.24 1398.92,261.19 1401.74,261.13 1404.57,261.08 1407.4,261.02 1410.23,260.96 1413.05,260.9 1415.88,260.84 1418.71,260.77 1421.53,260.7 1424.36,260.62 1427.19,260.55 1430.01,260.47 1432.84,260.38 1435.67,260.3 1438.5,260.21 1441.32,260.12 1444.15,260.03 1446.98,259.94 1449.8,259.84 1452.63,259.75 1455.46,259.65 1458.29,259.55 1461.11,259.45 1463.94,259.35 1466.77,259.25 1469.59,259.15 1472.42,259.05 1475.25,258.94 1478.08,258.84 1480.9,258.74 1483.73,258.63 1486.56,258.53 1489.38,258.43 1492.21,258.33 1495.04,258.23 1497.86,258.13 1500.69,258.03 1503.52,257.93 1506.35,257.84 1509.17,257.74 1512,257.65 1514.83,257.55 1517.65,257.45 1520.48,257.36 1523.31,257.26 1526.14,257.17 1528.96,257.07 1531.79,256.98 1534.62,256.88 1537.44,256.79 1540.27,256.69 1543.1,256.6 1545.92,256.5 1548.75,256.4 1551.58,256.31 1554.41,256.21 1557.23,256.12 1560.06,256.02 1562.89,255.93 1565.71,255.83 1568.54,255.74 1571.37,255.64 1574.2,255.55 1577.02,255.45 1579.85,255.35 1582.68,255.26 1585.5,255.16 1588.33,255.07 1591.16,254.97" fill="none" stroke="#66ee11" stroke-width="2.8" stroke-linejoin="round" stroke-linecap="round" marker-start="url(#bsq)" marker-mid="url(#bsq)" marker-end="url(#bsq)"/>
<polyline points="1025.74,84.96 1028.57,85.96 1031.4,86.96 1034.22,87.96 1037.05,88.97 1039.88,89.97 1042.7,90.96 1045.53,91.96 1048.36,92.95 1051.19,93.95 1054.01,94.98 1056.84,96 1059.67,97.02 1062.49,98.06 1065.32,99.16 1068.15,100.35 1070.98,101.69 1073.8,103.15 1076.63,104.64 1079.46,106.1 1082.28,107.56 1085.11,109.08 1087.94,110.71 1090.76,112.58 1093.59,114.6 1096.42,120.62 1099.25,184.6 1102.07,185.26 1104.9,185.95 1107.73,186.65 1110.55,187 1113.38,187 1116.21,187.52 1119.04,188.75 1121.86,190.17 1124.69,191.26 1127.52,191.98 1130.34,192.62 1133.17,193.2 1136,193.73 1138.83,194.23 1141.65,194.73 1144.48,195.23 1147.31,195.76 1150.13,196.33 1152.96,196.89 1155.79,197.46 1158.61,198.03 1161.44,198.59 1164.27,199.17 1167.1,199.75 1169.92,200.33 1172.75,200.93 1175.58,201.52 1178.4,202.1 1181.23,202.69 1184.06,203.28 1186.89,203.88 1189.71,204.51 1192.54,205.16 1195.37,205.86 1198.19,206.6 1201.02,207.4 1203.85,208.27 1206.67,209.18 1209.5,210.12 1212.33,211.07 1215.16,212.02 1217.98,212.95 1220.81,213.87 1223.64,214.8 1226.46,215.78 1229.29,216.82 1232.12,217.97 1234.95,219.25 1237.77,220.69 1240.6,222.33 1243.43,224.19 1246.25,226.38 1249.08,228.96 1251.91,231.96 1254.74,235.58 1257.56,239.94 1260.39,245.45 1263.22,251.53 1266.04,257.27 1268.87,262.85 1271.7,268.01 1274.53,273.12 1277.35,278.64 1280.18,285.04 1283.01,294.63 1285.83,302.94 1288.66,315.11 1291.49,329.42 1294.31,347.32 1297.14,363.07 1299.97,378.1 1302.8,402.44 1305.62,512.68 1308.45,439.66 1311.28,423.8 1314.1,396.18 1316.93,375.15 1319.76,354.71 1322.59,335.83 1325.41,318.7 1328.24,303.26 1331.07,290.97 1333.89,281.53 1336.72,273.63 1339.55,268.02 1342.38,265.03 1345.2,263.3 1348.03,262.91 1350.86,262.66 1353.68,262.49 1356.51,262.34 1359.34,262.22 1362.16,262.11 1364.99,262.01 1367.82,261.89 1370.65,261.77 1373.47,261.66 1376.3,261.55 1379.13,261.43 1381.95,261.32 1384.78,261.21 1387.61,261.11 1390.44,261.01 1393.26,260.91 1396.09,260.81 1398.92,260.71 1401.74,260.62 1404.57,260.52 1407.4,260.43 1410.23,260.33 1413.05,260.23 1415.88,260.13 1418.71,260.02 1421.53,259.91 1424.36,259.8 1427.19,259.68 1430.01,259.56 1432.84,259.44 1435.67,259.31 1438.5,259.19 1441.32,259.06 1444.15,258.93 1446.98,258.8 1449.8,258.66 1452.63,258.53 1455.46,258.39 1458.29,258.25 1461.11,258.11 1463.94,257.97 1466.77,257.83 1469.59,257.69 1472.42,257.55 1475.25,257.41 1478.08,257.26 1480.9,257.12 1483.73,256.98 1486.56,256.84 1489.38,256.7 1492.21,256.56 1495.04,256.42 1497.86,256.28 1500.69,256.14 1503.52,256 1506.35,255.87 1509.17,255.73 1512,255.6 1514.83,255.46 1517.65,255.33 1520.48,255.19 1523.31,255.06 1526.14,254.92 1528.96,254.79 1531.79,254.65 1534.62,254.52 1537.44,254.38 1540.27,254.25 1543.1,254.12 1545.92,253.98 1548.75,253.85 1551.58,253.71 1554.41,253.58 1557.23,253.44 1560.06,253.31 1562.89,253.17 1565.71,253.04 1568.54,252.9 1571.37,252.77 1574.2,252.63 1577.02,252.5 1579.85,252.36 1582.68,252.23 1585.5,252.09 1588.33,251.96 1591.16,251.82" fill="none" stroke="#ff00ff" stroke-width="2.8" stroke-linejoin="round" stroke-linecap="round" marker-start="url(#bpe)" marker-mid="url(#bpe)" marker-end="url(#bpe)"/>
<line x1="1305.62" y1="451.12" x2="1305.62" y2="512.68" stroke="#ff00ff" stroke-width="4.4"/>
<polygon points="1305.62,507.13 1311.42,511.35 1309.21,518.17 1302.04,518.17 1299.82,511.35" fill="#ff00ff"/>
<polyline points="1025.74,84.46 1028.57,85.43 1031.4,86.39 1034.22,87.35 1037.05,88.3 1039.88,89.25 1042.7,90.19 1045.53,91.11 1048.36,92.03 1051.19,92.95 1054.01,93.91 1056.84,94.86 1059.67,95.81 1062.49,96.79 1065.32,97.81 1068.15,98.92 1070.98,100.15 1073.8,101.5 1076.63,102.85 1079.46,104.17 1082.28,105.49 1085.11,106.84 1087.94,108.26 1090.76,109.84 1093.59,111.43 1096.42,112.88 1099.25,114.85 1102.07,117.18 1104.9,120.45 1107.73,185.95 1110.55,187.72 1113.38,187.72 1116.21,188.14 1119.04,189.14 1121.86,190.31 1124.69,191.26 1127.52,191.94 1130.34,192.55 1133.17,193.12 1136,193.66 1138.83,194.18 1141.65,194.7 1144.48,195.22 1147.31,195.76 1150.13,196.33 1152.96,196.89 1155.79,197.46 1158.61,198.03 1161.44,198.59 1164.27,199.17 1167.1,199.75 1169.92,200.33 1172.75,200.93 1175.58,201.52 1178.4,202.1 1181.23,202.69 1184.06,203.28 1186.89,203.88 1189.71,204.51 1192.54,205.16 1195.37,205.86 1198.19,206.6 1201.02,207.4 1203.85,208.27 1206.67,209.18 1209.5,210.12 1212.33,211.07 1215.16,212.02 1217.98,212.95 1220.81,213.87 1223.64,214.8 1226.46,215.78 1229.29,216.82 1232.12,217.97 1234.95,219.25 1237.77,220.69 1240.6,222.33 1243.43,224.19 1246.25,226.38 1249.08,228.96 1251.91,231.96 1254.74,235.58 1257.56,239.94 1260.39,245.45 1263.22,251.53 1266.04,257.27 1268.87,262.85 1271.7,268.01 1274.53,273.12 1277.35,278.64 1280.18,285.04 1283.01,294.63 1285.83,302.94 1288.66,315.11 1291.49,329.42 1294.31,347.32 1297.14,363.07 1299.97,378.1 1302.8,402.44 1305.62,449.69 1308.45,439.66 1311.28,408.88 1314.1,386.69 1316.93,365.93 1319.76,345.89 1322.59,327.99 1325.41,311.53 1328.24,297.21 1331.07,286.47 1333.89,277.88 1336.72,270.72 1339.55,266.43 1342.38,264.13 1345.2,263.3 1348.03,262.91 1350.86,262.66 1353.68,262.49 1356.51,262.34 1359.34,262.22 1362.16,262.11 1364.99,262.01 1367.82,261.93 1370.65,261.85 1373.47,261.78 1376.3,261.7 1379.13,261.63 1381.95,261.56 1384.78,261.49 1387.61,261.42 1390.44,261.36 1393.26,261.3 1396.09,261.24 1398.92,261.19 1401.74,261.13 1404.57,261.08 1407.4,261.02 1410.23,260.96 1413.05,260.9 1415.88,260.84 1418.71,260.77 1421.53,260.7 1424.36,260.62 1427.19,260.55 1430.01,260.47 1432.84,260.38 1435.67,260.3 1438.5,260.21 1441.32,260.12 1444.15,260.03 1446.98,259.94 1449.8,259.84 1452.63,259.75 1455.46,259.65 1458.29,259.55 1461.11,259.45 1463.94,259.35 1466.77,259.25 1469.59,259.15 1472.42,259.05 1475.25,258.94 1478.08,258.84 1480.9,258.74 1483.73,258.63 1486.56,258.53 1489.38,258.43 1492.21,258.33 1495.04,258.23 1497.86,258.13 1500.69,258.03 1503.52,257.93 1506.35,257.84 1509.17,257.74 1512,257.65 1514.83,257.55 1517.65,257.45 1520.48,257.36 1523.31,257.26 1526.14,257.17 1528.96,257.07 1531.79,256.98 1534.62,256.88 1537.44,256.79 1540.27,256.69 1543.1,256.6 1545.92,256.5 1548.75,256.4 1551.58,256.31 1554.41,256.21 1557.23,256.12 1560.06,256.02 1562.89,255.93 1565.71,255.83 1568.54,255.74 1571.37,255.64 1574.2,255.55 1577.02,255.45 1579.85,255.35 1582.68,255.26 1585.5,255.16 1588.33,255.07 1591.16,254.97" fill="none" stroke="#0000ff" stroke-width="2.8" stroke-linejoin="round" stroke-linecap="round" marker-start="url(#btr)" marker-mid="url(#btr)" marker-end="url(#btr)"/>
<text transform="translate(995.3 238) scale(1 1.035)" font-size="35.9" text-anchor="start">Switching process</text>
</g>
<rect x="969.2" y="39.5" width="678.5" height="501.1" fill="none" stroke="#000" stroke-width="4.4" stroke-linejoin="round"/>
<path d="M1025.74 540.6L1025.74 530.2M1025.74 39.5L1025.74 49.9M1167.1 540.6L1167.1 530.2M1167.1 39.5L1167.1 49.9M1308.45 540.6L1308.45 530.2M1308.45 39.5L1308.45 49.9M1449.8 540.6L1449.8 530.2M1449.8 39.5L1449.8 49.9M1591.16 540.6L1591.16 530.2M1591.16 39.5L1591.16 49.9M1096.42 540.6L1096.42 535.4M1096.42 39.5L1096.42 44.7M1237.77 540.6L1237.77 535.4M1237.77 39.5L1237.77 44.7M1379.13 540.6L1379.13 535.4M1379.13 39.5L1379.13 44.7M1520.48 540.6L1520.48 535.4M1520.48 39.5L1520.48 44.7M969.2 519.05L974.4 519.05M1647.7 519.05L1642.5 519.05M969.2 506.44L974.4 506.44M1647.7 506.44L1642.5 506.44M969.2 497.5L974.4 497.5M1647.7 497.5L1642.5 497.5M969.2 490.56L974.4 490.56M1647.7 490.56L1642.5 490.56M969.2 484.9L974.4 484.9M1647.7 484.9L1642.5 484.9M969.2 480.1L974.4 480.1M1647.7 480.1L1642.5 480.1M969.2 475.95L974.4 475.95M1647.7 475.95L1642.5 475.95M969.2 472.29L974.4 472.29M1647.7 472.29L1642.5 472.29M969.2 469.01L979.6 469.01M1647.7 469.01L1637.3 469.01M969.2 447.46L974.4 447.46M1647.7 447.46L1642.5 447.46M969.2 434.86L974.4 434.86M1647.7 434.86L1642.5 434.86M969.2 425.92L974.4 425.92M1647.7 425.92L1642.5 425.92M969.2 418.98L974.4 418.98M1647.7 418.98L1642.5 418.98M969.2 413.31L974.4 413.31M1647.7 413.31L1642.5 413.31M969.2 408.52L974.4 408.52M1647.7 408.52L1642.5 408.52M969.2 404.37L974.4 404.37M1647.7 404.37L1642.5 404.37M969.2 400.7L974.4 400.7M1647.7 400.7L1642.5 400.7M969.2 397.43L979.6 397.43M1647.7 397.43L1637.3 397.43M969.2 375.88L974.4 375.88M1647.7 375.88L1642.5 375.88M969.2 363.27L974.4 363.27M1647.7 363.27L1642.5 363.27M969.2 354.33L974.4 354.33M1647.7 354.33L1642.5 354.33M969.2 347.39L974.4 347.39M1647.7 347.39L1642.5 347.39M969.2 341.72L974.4 341.72M1647.7 341.72L1642.5 341.72M969.2 336.93L974.4 336.93M1647.7 336.93L1642.5 336.93M969.2 332.78L974.4 332.78M1647.7 332.78L1642.5 332.78M969.2 329.12L974.4 329.12M1647.7 329.12L1642.5 329.12M969.2 325.84L979.6 325.84M1647.7 325.84L1637.3 325.84M969.2 304.29L974.4 304.29M1647.7 304.29L1642.5 304.29M969.2 291.69L974.4 291.69M1647.7 291.69L1642.5 291.69M969.2 282.74L974.4 282.74M1647.7 282.74L1642.5 282.74M969.2 275.81L974.4 275.81M1647.7 275.81L1642.5 275.81M969.2 270.14L974.4 270.14M1647.7 270.14L1642.5 270.14M969.2 265.35L974.4 265.35M1647.7 265.35L1642.5 265.35M969.2 261.19L974.4 261.19M1647.7 261.19L1642.5 261.19M969.2 257.53L974.4 257.53M1647.7 257.53L1642.5 257.53M969.2 254.26L979.6 254.26M1647.7 254.26L1637.3 254.26M969.2 232.71L974.4 232.71M1647.7 232.71L1642.5 232.71M969.2 220.1L974.4 220.1M1647.7 220.1L1642.5 220.1M969.2 211.16L974.4 211.16M1647.7 211.16L1642.5 211.16M969.2 204.22L974.4 204.22M1647.7 204.22L1642.5 204.22M969.2 198.55L974.4 198.55M1647.7 198.55L1642.5 198.55M969.2 193.76L974.4 193.76M1647.7 193.76L1642.5 193.76M969.2 189.61L974.4 189.61M1647.7 189.61L1642.5 189.61M969.2 185.95L974.4 185.95M1647.7 185.95L1642.5 185.95M969.2 182.67L979.6 182.67M1647.7 182.67L1637.3 182.67M969.2 161.12L974.4 161.12M1647.7 161.12L1642.5 161.12M969.2 148.52L974.4 148.52M1647.7 148.52L1642.5 148.52M969.2 139.57L974.4 139.57M1647.7 139.57L1642.5 139.57M969.2 132.64L974.4 132.64M1647.7 132.64L1642.5 132.64M969.2 126.97L974.4 126.97M1647.7 126.97L1642.5 126.97M969.2 122.17L974.4 122.17M1647.7 122.17L1642.5 122.17M969.2 118.02L974.4 118.02M1647.7 118.02L1642.5 118.02M969.2 114.36L974.4 114.36M1647.7 114.36L1642.5 114.36M969.2 111.09L979.6 111.09M1647.7 111.09L1637.3 111.09M969.2 89.54L974.4 89.54M1647.7 89.54L1642.5 89.54M969.2 76.93L974.4 76.93M1647.7 76.93L1642.5 76.93M969.2 67.99L974.4 67.99M1647.7 67.99L1642.5 67.99M969.2 61.05L974.4 61.05M1647.7 61.05L1642.5 61.05M969.2 55.38L974.4 55.38M1647.7 55.38L1642.5 55.38M969.2 50.59L974.4 50.59M1647.7 50.59L1642.5 50.59M969.2 46.44L974.4 46.44M1647.7 46.44L1642.5 46.44M969.2 42.78L974.4 42.78M1647.7 42.78L1642.5 42.78" stroke="#000" stroke-width="4.0" stroke-linecap="round" fill="none"/>
<text transform="translate(898.2 558.59) scale(1 1.035)" font-size="36">10<tspan font-size="24" dy="-14.3">-3</tspan></text>
<text transform="translate(898.2 486.13) scale(1 1.035)" font-size="36">10<tspan font-size="24" dy="-14.3">-2</tspan></text>
<text transform="translate(898.2 413.68) scale(1 1.035)" font-size="36">10<tspan font-size="24" dy="-14.3">-1</tspan></text>
<text transform="translate(898.2 341.22) scale(1 1.035)" font-size="36">10<tspan font-size="24" dy="-14.3">0</tspan></text>
<text transform="translate(898.2 268.77) scale(1 1.035)" font-size="36">10<tspan font-size="24" dy="-14.3">1</tspan></text>
<text transform="translate(898.2 196.31) scale(1 1.035)" font-size="36">10<tspan font-size="24" dy="-14.3">2</tspan></text>
<text transform="translate(898.2 123.86) scale(1 1.035)" font-size="36">10<tspan font-size="24" dy="-14.3">3</tspan></text>
<text transform="translate(898.2 51.4) scale(1 1.035)" font-size="36">10<tspan font-size="24" dy="-14.3">4</tspan></text>
<text transform="translate(1033.64 580.6) scale(1 1.035)" font-size="36" text-anchor="middle">-10</text>
<text transform="translate(1175 580.6) scale(1 1.035)" font-size="36" text-anchor="middle">-5</text>
<text transform="translate(1316.35 580.6) scale(1 1.035)" font-size="36" text-anchor="middle">0</text>
<text transform="translate(1457.7 580.6) scale(1 1.035)" font-size="36" text-anchor="middle">5</text>
<text transform="translate(1599.06 580.6) scale(1 1.035)" font-size="36" text-anchor="middle">10</text>
<line x1="1311.7" y1="80.8" x2="1334.4" y2="80.8" stroke="#ff0000" stroke-width="4" stroke-linecap="round"/>
<line x1="1361.2" y1="80.8" x2="1383.7" y2="80.8" stroke="#ff0000" stroke-width="4" stroke-linecap="round"/>
<polygon points="1348.2,72.37 1350.5,77.9 1356.47,78.38 1351.92,82.28 1353.31,88.11 1348.2,84.99 1343.09,88.11 1344.48,82.28 1339.93,78.38 1345.9,77.9" fill="#ff0000"/>
<line x1="1311.7" y1="118" x2="1334.4" y2="118" stroke="#00cc00" stroke-width="4" stroke-linecap="round"/>
<line x1="1361.2" y1="118" x2="1383.7" y2="118" stroke="#00cc00" stroke-width="4" stroke-linecap="round"/>
<rect x="1340.3" y="109.5" width="15.8" height="15.8" fill="#80ff00"/>
<line x1="1311.7" y1="152" x2="1334.4" y2="152" stroke="#ff00ff" stroke-width="4" stroke-linecap="round"/>
<line x1="1361.2" y1="152" x2="1383.7" y2="152" stroke="#ff00ff" stroke-width="4" stroke-linecap="round"/>
<polygon points="1348.2,143.93 1356.95,150.29 1353.61,160.57 1342.79,160.57 1339.45,150.29" fill="#ff00ff"/>
<line x1="1311.7" y1="185.9" x2="1334.4" y2="185.9" stroke="#0000ff" stroke-width="4" stroke-linecap="round"/>
<line x1="1361.2" y1="185.9" x2="1383.7" y2="185.9" stroke="#0000ff" stroke-width="4" stroke-linecap="round"/>
<polygon points="1348.2,176.69 1357.3,193.09 1339.1,193.09" fill="#0000ff"/>
<text transform="translate(1410.5 92.3) scale(1 1.035)" font-size="35.7">without laser</text>
<text transform="translate(1408.8 126.8) scale(1 1.035)" font-size="35.7">r<tspan font-size="22.4" dy="6.4">s </tspan><tspan dy="-6.4">=0 mm</tspan></text>
<text transform="translate(1408.8 160.5) scale(1 1.035)" font-size="35.7">r<tspan font-size="22.4" dy="6.4">s </tspan><tspan dy="-6.4">=2 mm</tspan></text>
<text transform="translate(1408.8 194.1) scale(1 1.035)" font-size="35.7">r<tspan font-size="22.4" dy="6.4">s </tspan><tspan dy="-6.4">=5 mm</tspan></text>
<text transform="translate(849 30) scale(1 1.035)" font-size="42" text-anchor="start">(b)</text>
<text transform="translate(871.5 289.9) rotate(-90) scale(1 1.035)" font-size="47.9" text-anchor="middle">Current (μA)</text>
<text transform="translate(1312 621.2) scale(1 1.035)" font-size="47.9" text-anchor="middle">Applied Voltage (V)</text>
<polyline points="183.9,698.37 251.75,720.91 319.6,741.37 387.45,765.17 455.3,784.79 523.15,809.42 591,834.89 658.85,861.61 726.7,1145.1 794.55,1148.02" fill="none" stroke="#ff0000" stroke-width="5.2" stroke-linejoin="round" stroke-linecap="round" marker-start="url(#cst)" marker-mid="url(#cst)" marker-end="url(#cst)"/>
<polyline points="183.9,758.49 251.75,784.79 319.6,809.01 387.45,996.88 455.3,1138.83 523.15,1140.5 591,1140.92 658.85,1141.76 726.7,1142.17 794.55,1143.01" fill="none" stroke="#00e800" stroke-width="4.6" stroke-linejoin="round" stroke-linecap="round" marker-start="url(#csq)" marker-mid="url(#csq)" marker-end="url(#csq)"/>
<polyline points="183.9,741.37 251.75,763.5 319.6,786.88 387.45,814.85 455.3,842.41 523.15,1135.49 591,1136.33 658.85,1137.58 726.7,1138.83 794.55,1139.67" fill="none" stroke="#ff00ff" stroke-width="4.8" stroke-linejoin="round" stroke-linecap="round" marker-start="url(#cpe)" marker-mid="url(#cpe)" marker-end="url(#cpe)"/>
<polyline points="183.9,707.55 251.75,728.01 319.6,748.47 387.45,768.09 455.3,791.05 523.15,817.36 591,850.34 658.85,996.05 726.7,1135.49 794.55,1136.74" fill="none" stroke="#0000ff" stroke-width="5" stroke-linejoin="round" stroke-linecap="round" marker-start="url(#ctr)" marker-mid="url(#ctr)" marker-end="url(#ctr)"/>
<rect x="136.3" y="659.5" width="677.3" height="500.5" fill="none" stroke="#000" stroke-width="4.4" stroke-linejoin="round"/>
<path d="M182.9 1160L182.9 1149.6M182.9 659.5L182.9 669.9M250.75 1160L250.75 1154.8M250.75 659.5L250.75 664.7M318.6 1160L318.6 1149.6M318.6 659.5L318.6 669.9M386.45 1160L386.45 1154.8M386.45 659.5L386.45 664.7M454.3 1160L454.3 1149.6M454.3 659.5L454.3 669.9M522.15 1160L522.15 1154.8M522.15 659.5L522.15 664.7M590 1160L590 1149.6M590 659.5L590 669.9M657.85 1160L657.85 1154.8M657.85 659.5L657.85 664.7M725.7 1160L725.7 1149.6M725.7 659.5L725.7 669.9M793.55 1160L793.55 1154.8M793.55 659.5L793.55 664.7M136.3 1139.25L141.5 1139.25M813.6 1139.25L808.4 1139.25M136.3 1097.5L146.7 1097.5M813.6 1097.5L803.2 1097.5M136.3 1055.75L141.5 1055.75M813.6 1055.75L808.4 1055.75M136.3 1014L146.7 1014M813.6 1014L803.2 1014M136.3 972.25L141.5 972.25M813.6 972.25L808.4 972.25M136.3 930.5L146.7 930.5M813.6 930.5L803.2 930.5M136.3 888.75L141.5 888.75M813.6 888.75L808.4 888.75M136.3 847L146.7 847M813.6 847L803.2 847M136.3 805.25L141.5 805.25M813.6 805.25L808.4 805.25M136.3 763.5L146.7 763.5M813.6 763.5L803.2 763.5M136.3 721.75L141.5 721.75M813.6 721.75L808.4 721.75M136.3 680L146.7 680M813.6 680L803.2 680" stroke="#000" stroke-width="4.0" stroke-linecap="round" fill="none"/>
<text transform="translate(123.3 1110.5) scale(1 1.035)" font-size="36" text-anchor="end">200</text>
<text transform="translate(123.3 1027) scale(1 1.035)" font-size="36" text-anchor="end">400</text>
<text transform="translate(123.3 943.5) scale(1 1.035)" font-size="36" text-anchor="end">600</text>
<text transform="translate(123.3 860) scale(1 1.035)" font-size="36" text-anchor="end">800</text>
<text transform="translate(123.3 776.5) scale(1 1.035)" font-size="36" text-anchor="end">1000</text>
<text transform="translate(123.3 693) scale(1 1.035)" font-size="36" text-anchor="end">1200</text>
<text transform="translate(188.5 1200.2) scale(1 1.035)" font-size="36" text-anchor="middle">-7.8</text>
<text transform="translate(324.2 1200.2) scale(1 1.035)" font-size="36" text-anchor="middle">-7.6</text>
<text transform="translate(459.9 1200.2) scale(1 1.035)" font-size="36" text-anchor="middle">-7.4</text>
<text transform="translate(595.6 1200.2) scale(1 1.035)" font-size="36" text-anchor="middle">-7.2</text>
<text transform="translate(731.3 1200.2) scale(1 1.035)" font-size="36" text-anchor="middle">-7.0</text>
<text transform="translate(10.5 649) scale(1 1.035)" font-size="42" text-anchor="start">(c)</text>
<text transform="translate(36.2 889.3) rotate(-90) scale(1 1.035)" font-size="47.9" text-anchor="middle">Current (μA)</text>
<text transform="translate(476.5 1241.6) scale(1 1.035)" font-size="47.9" text-anchor="middle">Applied Voltage (V)</text>
<polyline points="1018.9,699.21 1086.5,722.79 1154.1,742.42 1221.7,765.17 1289.3,785.63 1356.9,809.42 1424.5,833.22 1492.1,862.45 1559.7,1143.42 1627.3,1144.26" fill="none" stroke="#ff0000" stroke-width="5" stroke-linejoin="round" stroke-linecap="round" marker-start="url(#dst)" marker-mid="url(#dst)" marker-end="url(#dst)"/>
<polyline points="1018.9,783.54 1086.5,829.88 1154.1,1139.67 1221.7,1143.42 1289.3,1144.26 1356.9,1144.26 1424.5,1144.68 1492.1,1144.68 1559.7,1145.1 1627.3,1145.1" fill="none" stroke="#11cc11" stroke-width="5" stroke-linejoin="round" stroke-linecap="round" marker-start="url(#dsq)" marker-mid="url(#dsq)" marker-end="url(#dsq)"/>
<polyline points="1018.9,758.49 1086.5,783.12 1154.1,808.17 1221.7,873.72 1289.3,1141.76 1356.9,1142.59 1424.5,1143.42 1492.1,1144.26 1559.7,1144.68 1627.3,1144.68" fill="none" stroke="#ff00ff" stroke-width="5" stroke-linejoin="round" stroke-linecap="round" marker-start="url(#dpe)" marker-mid="url(#dpe)" marker-end="url(#dpe)"/>
<polyline points="1018.9,723.84 1086.5,746.38 1154.1,767.67 1221.7,787.3 1289.3,811.1 1356.9,837.82 1424.5,872.05 1492.1,1143.42 1559.7,1145.51 1627.3,1145.51" fill="none" stroke="#0000ff" stroke-width="5" stroke-linejoin="round" stroke-linecap="round" marker-start="url(#dtr)" marker-mid="url(#dtr)" marker-end="url(#dtr)"/>
<rect x="970.2" y="659.5" width="677.5" height="500.8" fill="none" stroke="#000" stroke-width="4.4" stroke-linejoin="round"/>
<path d="M1017.2 1160.3L1017.2 1149.9M1017.2 659.5L1017.2 669.9M1084.8 1160.3L1084.8 1155.1M1084.8 659.5L1084.8 664.7M1152.4 1160.3L1152.4 1149.9M1152.4 659.5L1152.4 669.9M1220 1160.3L1220 1155.1M1220 659.5L1220 664.7M1287.6 1160.3L1287.6 1149.9M1287.6 659.5L1287.6 669.9M1355.2 1160.3L1355.2 1155.1M1355.2 659.5L1355.2 664.7M1422.8 1160.3L1422.8 1149.9M1422.8 659.5L1422.8 669.9M1490.4 1160.3L1490.4 1155.1M1490.4 659.5L1490.4 664.7M1558 1160.3L1558 1149.9M1558 659.5L1558 669.9M1625.6 1160.3L1625.6 1155.1M1625.6 659.5L1625.6 664.7M970.2 1139.25L975.4 1139.25M1647.7 1139.25L1642.5 1139.25M970.2 1097.5L980.6 1097.5M1647.7 1097.5L1637.3 1097.5M970.2 1055.75L975.4 1055.75M1647.7 1055.75L1642.5 1055.75M970.2 1014L980.6 1014M1647.7 1014L1637.3 1014M970.2 972.25L975.4 972.25M1647.7 972.25L1642.5 972.25M970.2 930.5L980.6 930.5M1647.7 930.5L1637.3 930.5M970.2 888.75L975.4 888.75M1647.7 888.75L1642.5 888.75M970.2 847L980.6 847M1647.7 847L1637.3 847M970.2 805.25L975.4 805.25M1647.7 805.25L1642.5 805.25M970.2 763.5L980.6 763.5M1647.7 763.5L1637.3 763.5M970.2 721.75L975.4 721.75M1647.7 721.75L1642.5 721.75M970.2 680L980.6 680M1647.7 680L1637.3 680" stroke="#000" stroke-width="4.0" stroke-linecap="round" fill="none"/>
<text transform="translate(959.9 1110.5) scale(1 1.035)" font-size="36" text-anchor="end">200</text>
<text transform="translate(959.9 1027) scale(1 1.035)" font-size="36" text-anchor="end">400</text>
<text transform="translate(959.9 943.5) scale(1 1.035)" font-size="36" text-anchor="end">600</text>
<text transform="translate(959.9 860) scale(1 1.035)" font-size="36" text-anchor="end">800</text>
<text transform="translate(959.9 776.5) scale(1 1.035)" font-size="36" text-anchor="end">1000</text>
<text transform="translate(959.9 693) scale(1 1.035)" font-size="36" text-anchor="end">1200</text>
<text transform="translate(1019.8 1200.5) scale(1 1.035)" font-size="36" text-anchor="middle">-7.8</text>
<text transform="translate(1155 1200.5) scale(1 1.035)" font-size="36" text-anchor="middle">-7.6</text>
<text transform="translate(1290.2 1200.5) scale(1 1.035)" font-size="36" text-anchor="middle">-7.4</text>
<text transform="translate(1425.4 1200.5) scale(1 1.035)" font-size="36" text-anchor="middle">-7.2</text>
<text transform="translate(1560.6 1200.5) scale(1 1.035)" font-size="36" text-anchor="middle">-7.0</text>
<text transform="translate(848.5 649) scale(1 1.035)" font-size="42" text-anchor="start">(d)</text>
<text transform="translate(871.5 889.3) rotate(-90) scale(1 1.035)" font-size="47.9" text-anchor="middle">Current (μA)</text>
<text transform="translate(1323.7 1241.4) scale(1 1.035)" font-size="47.9" text-anchor="middle">Applied Voltage (V)</text>
</svg>
</body></html>
